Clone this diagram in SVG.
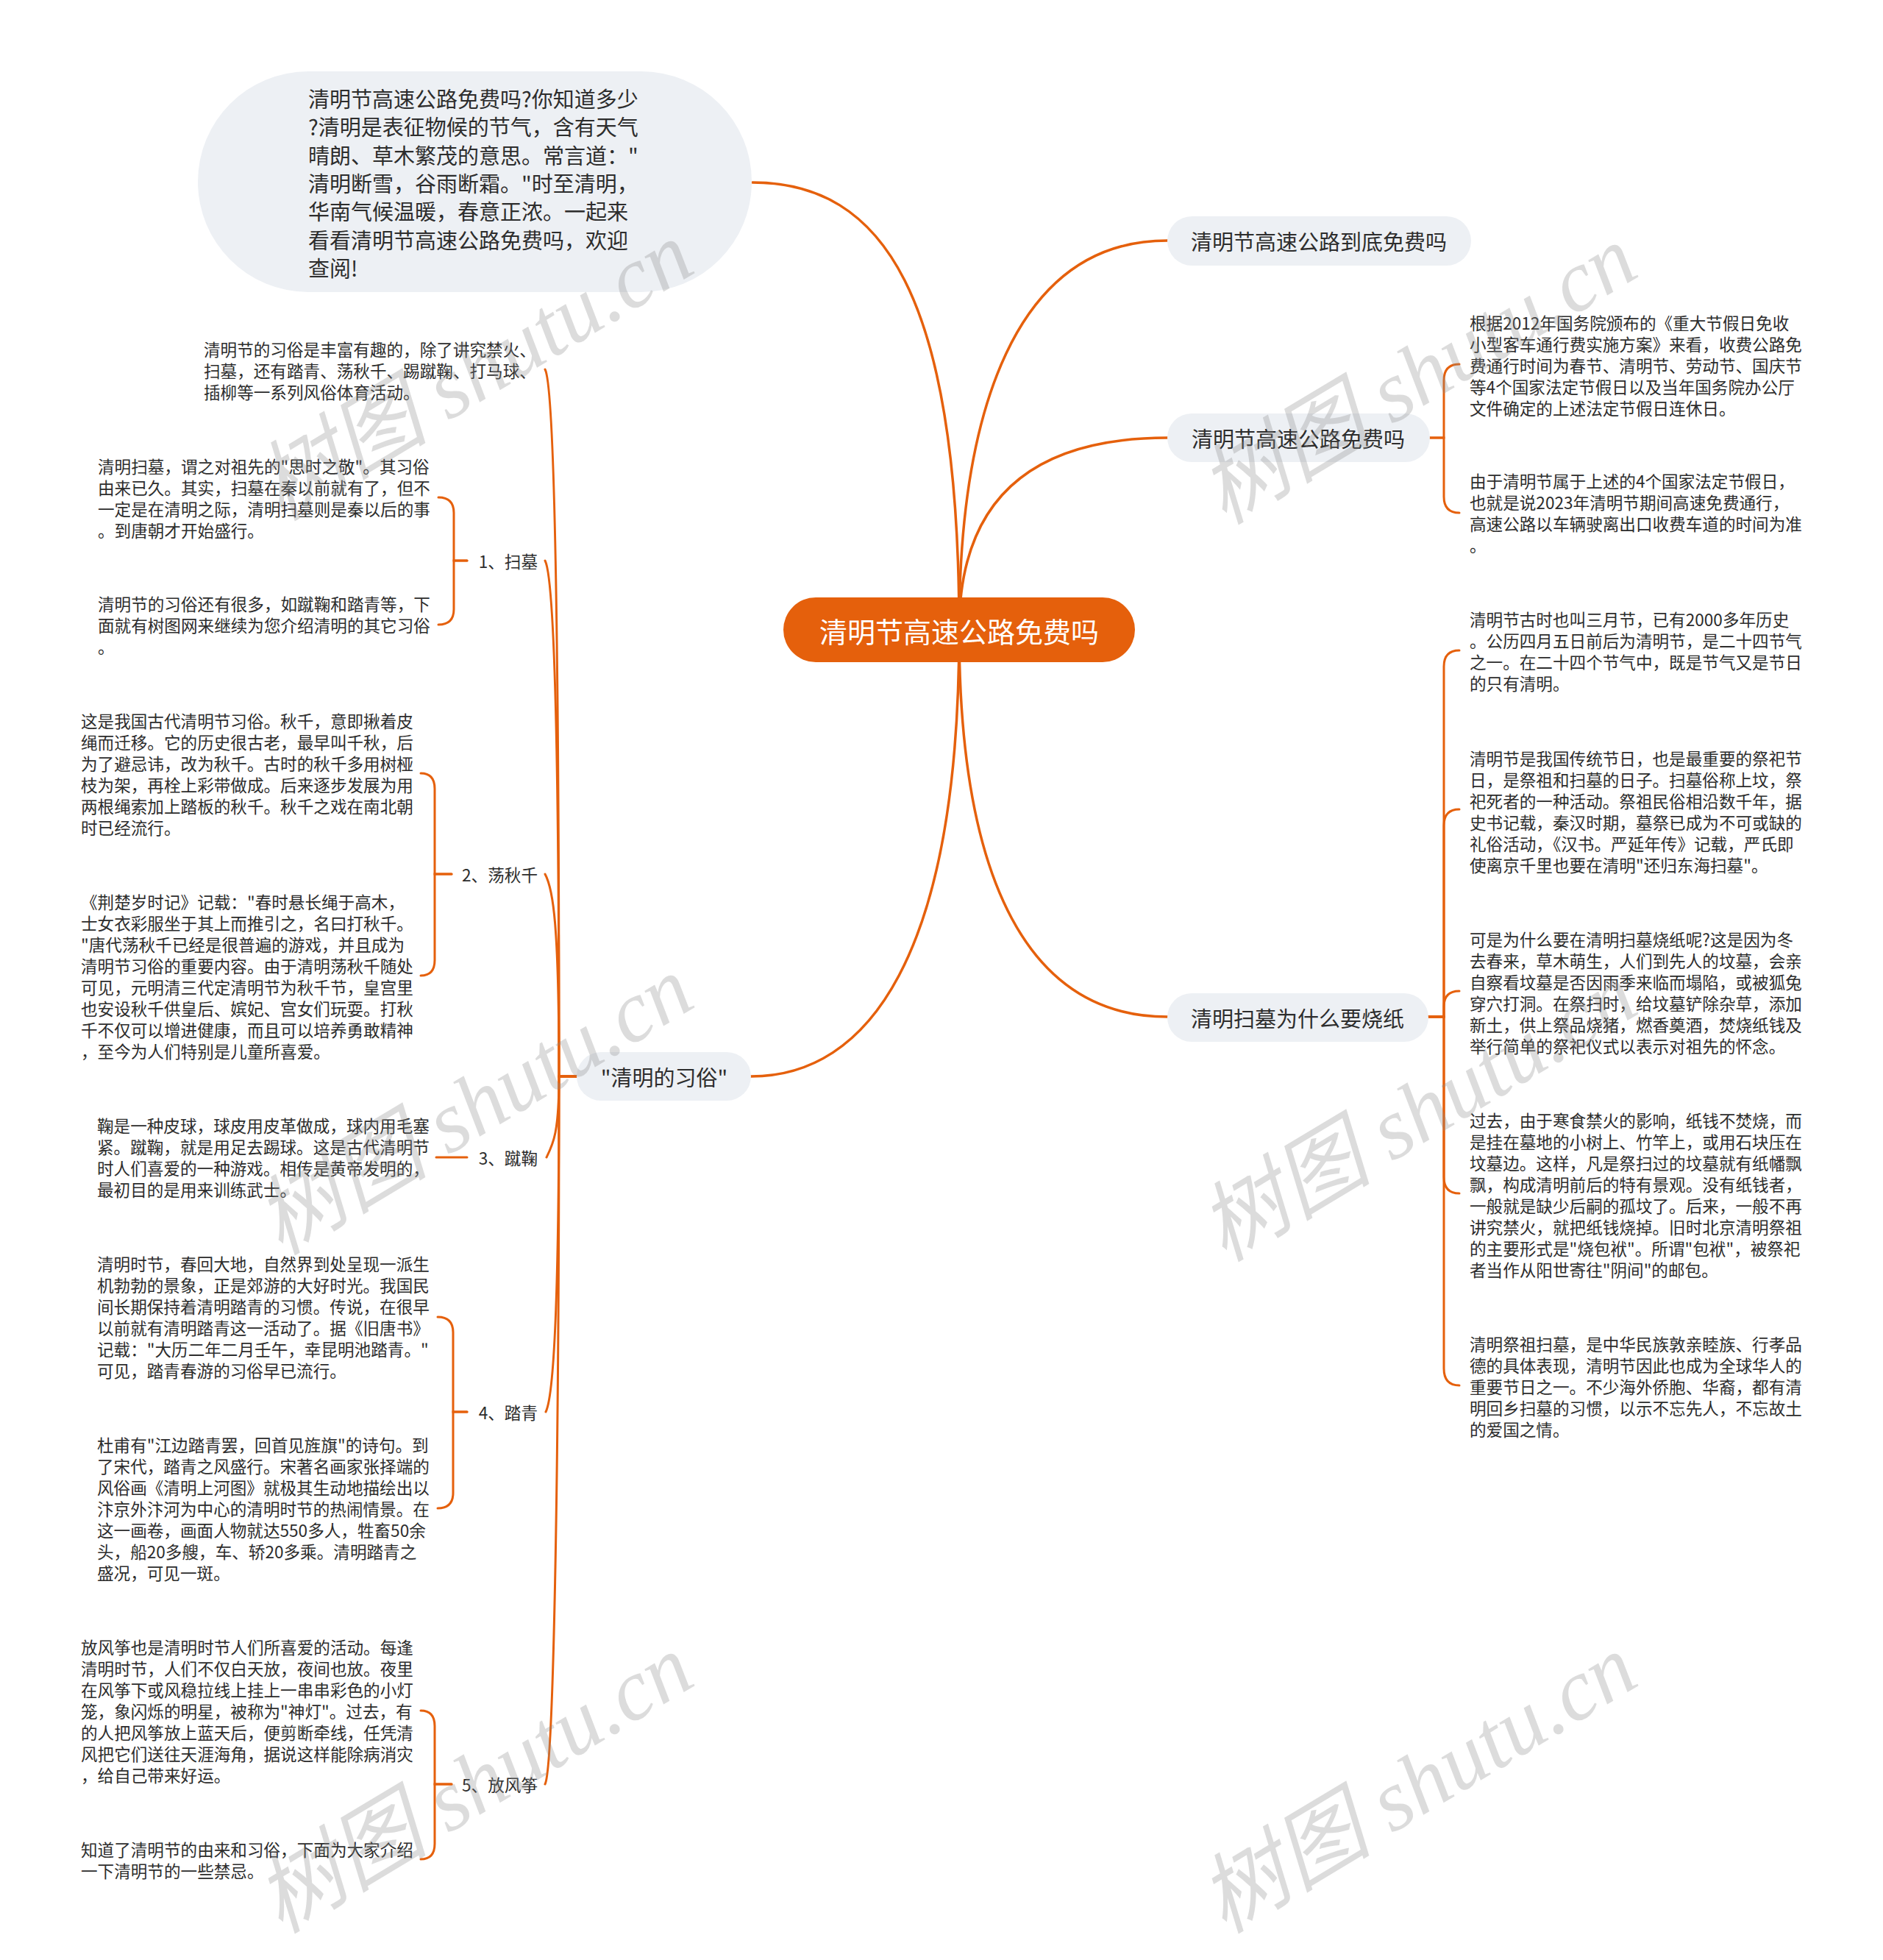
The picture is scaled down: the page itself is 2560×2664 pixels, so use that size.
<svg xmlns="http://www.w3.org/2000/svg" width="2560" height="2664" viewBox="0 0 2560 2664">
<style>
.t{font-family:"Noto Sans CJK SC","Noto Sans",sans-serif;font-size:22.6px;fill:#2d2d2d;dominant-baseline:central}
.m{font-family:"Noto Sans CJK SC","Noto Sans",sans-serif;font-size:29px;fill:#2d2d2d;dominant-baseline:central}
.lbl{font-family:"Noto Sans CJK SC","Noto Sans",sans-serif;font-size:22.6px;fill:#2d2d2d;dominant-baseline:central;text-anchor:end}
.bub{fill:#edf0f4}
.c{fill:none;stroke:#e5600c;stroke-width:3.5;stroke-linecap:round}
.s{fill:none;stroke:#e5600c;stroke-width:3;stroke-linecap:round}
.wm{font-family:"Liberation Serif","Noto Sans CJK SC",serif;font-style:italic;font-size:118px;fill:#8a8a8a;fill-opacity:0.3;text-anchor:middle;dominant-baseline:central}
</style>
<rect width="2560" height="2664" fill="#ffffff"/>
<g id="connectors">
<path class="c" d="M1304,856 C1304,400 1200,248 1023,248"/>
<path class="c" d="M1304,856 C1304,560 1380,327 1587,327"/>
<path class="c" d="M1304,856 C1304,700 1380,595 1587,595"/>
<path class="c" d="M1304,856 C1304,1200 1400,1382 1587,1382"/>
<path class="c" d="M1304,856 C1304,1300 1180,1463 1021,1463"/>
<path class="s" d="M1944,595 H1963 V517 Q1963,495 1984,495"/>
<path class="s" d="M1944,595 H1963 V675 Q1963,697 1984,697"/>
<path class="s" d="M1942,1382 H1963 V906 Q1963,884 1984,884"/>
<path class="s" d="M1942,1382 H1963 V1122 Q1963,1100 1984,1100"/>
<path class="s" d="M1942,1382 H1963 V1368 Q1963,1347 1984,1347"/>
<path class="s" d="M1942,1382 H1963 V1600 Q1963,1622 1984,1622"/>
<path class="s" d="M1942,1382 H1963 V1860 Q1963,1883 1984,1883"/>
<path class="s" d="M784,1463 H760 C760,792 752,522 741,502"/>
<path class="s" d="M784,1463 H760 C760,974 752,782 741,762"/>
<path class="s" d="M784,1463 H760 C760,1255 752,1208 741,1188"/>
<path class="s" d="M784,1463 H760 C760,1540 752,1555 743,1573"/>
<path class="s" d="M784,1463 H760 C760,1780 752,1899 742,1919"/>
<path class="s" d="M784,1463 H760 C760,2032 752,2405 741,2425"/>
<path class="s" d="M635,762 H617 V697 Q617,676 596,676"/>
<path class="s" d="M635,762 H617 V828 Q617,849 596,849"/>
<path class="s" d="M614,1188 H591 V1072 Q591,1051 572,1051"/>
<path class="s" d="M614,1188 H591 V1305 Q591,1326 572,1326"/>
<path class="s" d="M635,1573 H593"/>
<path class="s" d="M635,1919 H616 V1811 Q616,1790 595,1790"/>
<path class="s" d="M635,1919 H616 V2029 Q616,2050 595,2050"/>
<path class="s" d="M614,2425 H591 V2346 Q591,2325 572,2325"/>
<path class="s" d="M614,2425 H591 V2506 Q591,2527 572,2527"/>
</g>
<g id="root">
<rect x="1065" y="812" width="478" height="88" rx="44" fill="#e5600c"/>
<text x="1304" y="856" text-anchor="middle" style="font-family:'Noto Sans CJK SC',sans-serif;font-size:38px;fill:#ffffff;dominant-baseline:central">清明节高速公路免费吗</text>
</g>
<g id="intro">
<rect class="bub" x="269" y="97" width="753" height="300" rx="150"/>
<text class="m">
<tspan x="419" y="133">清明节高速公路免费吗?你知道多少</tspan>
<tspan x="419" y="171">?清明是表征物候的节气，含有天气</tspan>
<tspan x="419" y="210">晴朗、草木繁茂的意思。常言道："</tspan>
<tspan x="419" y="248">清明断雪，谷雨断霜。"时至清明，</tspan>
<tspan x="419" y="286">华南气候温暖，春意正浓。一起来</tspan>
<tspan x="419" y="325">看看清明节高速公路免费吗，欢迎</tspan>
<tspan x="419" y="363">查阅!</tspan>
</text>
</g>
<g id="r1">
<rect class="bub" x="1587" y="294" width="413" height="67" rx="33.5"/>
<text class="m" x="1793" y="327" text-anchor="middle">清明节高速公路到底免费吗</text>
</g>
<g id="r2">
<rect class="bub" x="1587" y="562" width="357" height="66" rx="33"/>
<text class="m" x="1765" y="595" text-anchor="middle">清明节高速公路免费吗</text>
</g>
<g id="r2a">
<text class="t">
<tspan x="1998" y="438">根据2012年国务院颁布的《重大节假日免收</tspan>
<tspan x="1998" y="467">小型客车通行费实施方案》来看，收费公路免</tspan>
<tspan x="1998" y="496">费通行时间为春节、清明节、劳动节、国庆节</tspan>
<tspan x="1998" y="525">等4个国家法定节假日以及当年国务院办公厅</tspan>
<tspan x="1998" y="554">文件确定的上述法定节假日连休日。</tspan>
</text>
</g>
<g id="r2b">
<text class="t">
<tspan x="1998" y="653">由于清明节属于上述的4个国家法定节假日，</tspan>
<tspan x="1998" y="682">也就是说2023年清明节期间高速免费通行，</tspan>
<tspan x="1998" y="711">高速公路以车辆驶离出口收费车道的时间为准</tspan>
<tspan x="1998" y="740">。</tspan>
</text>
</g>
<g id="r3">
<rect class="bub" x="1587" y="1350" width="355" height="66" rx="33"/>
<text class="m" x="1764" y="1383" text-anchor="middle">清明扫墓为什么要烧纸</text>
</g>
<g id="r3a">
<text class="t">
<tspan x="1998" y="841">清明节古时也叫三月节，已有2000多年历史</tspan>
<tspan x="1998" y="870">。公历四月五日前后为清明节，是二十四节气</tspan>
<tspan x="1998" y="899">之一。在二十四个节气中，既是节气又是节日</tspan>
<tspan x="1998" y="928">的只有清明。</tspan>
</text>
</g>
<g id="r3b">
<text class="t">
<tspan x="1998" y="1030">清明节是我国传统节日，也是最重要的祭祀节</tspan>
<tspan x="1998" y="1059">日，是祭祖和扫墓的日子。扫墓俗称上坟，祭</tspan>
<tspan x="1998" y="1088">祀死者的一种活动。祭祖民俗相沿数千年，据</tspan>
<tspan x="1998" y="1117">史书记载，秦汉时期，墓祭已成为不可或缺的</tspan>
<tspan x="1998" y="1146">礼俗活动，《汉书。严延年传》记载，严氏即</tspan>
<tspan x="1998" y="1175">使离京千里也要在清明"还归东海扫墓"。</tspan>
</text>
</g>
<g id="r3c">
<text class="t">
<tspan x="1998" y="1276">可是为什么要在清明扫墓烧纸呢?这是因为冬</tspan>
<tspan x="1998" y="1305">去春来，草木萌生，人们到先人的坟墓，会亲</tspan>
<tspan x="1998" y="1334">自察看坟墓是否因雨季来临而塌陷，或被狐兔</tspan>
<tspan x="1998" y="1363">穿穴打洞。在祭扫时，给坟墓铲除杂草，添加</tspan>
<tspan x="1998" y="1392">新土，供上祭品烧猪，燃香奠酒，焚烧纸钱及</tspan>
<tspan x="1998" y="1421">举行简单的祭祀仪式以表示对祖先的怀念。</tspan>
</text>
</g>
<g id="r3d">
<text class="t">
<tspan x="1998" y="1522">过去，由于寒食禁火的影响，纸钱不焚烧，而</tspan>
<tspan x="1998" y="1551">是挂在墓地的小树上、竹竿上，或用石块压在</tspan>
<tspan x="1998" y="1580">坟墓边。这样，凡是祭扫过的坟墓就有纸幡飘</tspan>
<tspan x="1998" y="1609">飘，构成清明前后的特有景观。没有纸钱者，</tspan>
<tspan x="1998" y="1638">一般就是缺少后嗣的孤坟了。后来，一般不再</tspan>
<tspan x="1998" y="1667">讲究禁火，就把纸钱烧掉。旧时北京清明祭祖</tspan>
<tspan x="1998" y="1696">的主要形式是"烧包袱"。所谓"包袱"，被祭祀</tspan>
<tspan x="1998" y="1725">者当作从阳世寄往"阴间"的邮包。</tspan>
</text>
</g>
<g id="r3e">
<text class="t">
<tspan x="1998" y="1826">清明祭祖扫墓，是中华民族敦亲睦族、行孝品</tspan>
<tspan x="1998" y="1855">德的具体表现，清明节因此也成为全球华人的</tspan>
<tspan x="1998" y="1884">重要节日之一。不少海外侨胞、华裔，都有清</tspan>
<tspan x="1998" y="1913">明回乡扫墓的习惯，以示不忘先人，不忘故土</tspan>
<tspan x="1998" y="1942">的爱国之情。</tspan>
</text>
</g>
<g id="l">
<rect class="bub" x="784" y="1430" width="237" height="66" rx="33"/>
<text class="m" x="903" y="1463" text-anchor="middle">"清明的习俗"</text>
</g>
<g id="l0">
<text class="t">
<tspan x="277" y="474">清明节的习俗是丰富有趣的，除了讲究禁火、</tspan>
<tspan x="277" y="503">扫墓，还有踏青、荡秋千、踢蹴鞠、打马球、</tspan>
<tspan x="277" y="532">插柳等一系列风俗体育活动。</tspan>
</text>
</g>
<g id="l1"><text class="lbl" x="731" y="762">1、扫墓</text></g>
<g id="l1a">
<text class="t">
<tspan x="133" y="633">清明扫墓，谓之对祖先的"思时之敬"。其习俗</tspan>
<tspan x="133" y="662">由来已久。其实，扫墓在秦以前就有了，但不</tspan>
<tspan x="133" y="691">一定是在清明之际，清明扫墓则是秦以后的事</tspan>
<tspan x="133" y="720">。到唐朝才开始盛行。</tspan>
</text>
</g>
<g id="l1b">
<text class="t">
<tspan x="133" y="820">清明节的习俗还有很多，如蹴鞠和踏青等，下</tspan>
<tspan x="133" y="849">面就有树图网来继续为您介绍清明的其它习俗</tspan>
<tspan x="133" y="878">。</tspan>
</text>
</g>
<g id="l2"><text class="lbl" x="731" y="1188">2、荡秋千</text></g>
<g id="l2a">
<text class="t">
<tspan x="110" y="979">这是我国古代清明节习俗。秋千，意即揪着皮</tspan>
<tspan x="110" y="1008">绳而迁移。它的历史很古老，最早叫千秋，后</tspan>
<tspan x="110" y="1037">为了避忌讳，改为秋千。古时的秋千多用树桠</tspan>
<tspan x="110" y="1066">枝为架，再栓上彩带做成。后来逐步发展为用</tspan>
<tspan x="110" y="1095">两根绳索加上踏板的秋千。秋千之戏在南北朝</tspan>
<tspan x="110" y="1124">时已经流行。</tspan>
</text>
</g>
<g id="l2b">
<text class="t">
<tspan x="110" y="1225">《荆楚岁时记》记载："春时悬长绳于高木，</tspan>
<tspan x="110" y="1254">士女衣彩服坐于其上而推引之，名曰打秋千。</tspan>
<tspan x="110" y="1283">"唐代荡秋千已经是很普遍的游戏，并且成为</tspan>
<tspan x="110" y="1312">清明节习俗的重要内容。由于清明荡秋千随处</tspan>
<tspan x="110" y="1341">可见，元明清三代定清明节为秋千节，皇宫里</tspan>
<tspan x="110" y="1370">也安设秋千供皇后、嫔妃、宫女们玩耍。打秋</tspan>
<tspan x="110" y="1399">千不仅可以增进健康，而且可以培养勇敢精神</tspan>
<tspan x="110" y="1428">，至今为人们特别是儿童所喜爱。</tspan>
</text>
</g>
<g id="l3"><text class="lbl" x="731" y="1573">3、蹴鞠</text></g>
<g id="l3a">
<text class="t">
<tspan x="132" y="1529">鞠是一种皮球，球皮用皮革做成，球内用毛塞</tspan>
<tspan x="132" y="1558">紧。蹴鞠，就是用足去踢球。这是古代清明节</tspan>
<tspan x="132" y="1587">时人们喜爱的一种游戏。相传是黄帝发明的，</tspan>
<tspan x="132" y="1616">最初目的是用来训练武士。</tspan>
</text>
</g>
<g id="l4"><text class="lbl" x="731" y="1919">4、踏青</text></g>
<g id="l4a">
<text class="t">
<tspan x="132" y="1717">清明时节，春回大地，自然界到处呈现一派生</tspan>
<tspan x="132" y="1746">机勃勃的景象，正是郊游的大好时光。我国民</tspan>
<tspan x="132" y="1775">间长期保持着清明踏青的习惯。传说，在很早</tspan>
<tspan x="132" y="1804">以前就有清明踏青这一活动了。据《旧唐书》</tspan>
<tspan x="132" y="1833">记载："大历二年二月壬午，幸昆明池踏青。"</tspan>
<tspan x="132" y="1862">可见，踏青春游的习俗早已流行。</tspan>
</text>
</g>
<g id="l4b">
<text class="t">
<tspan x="132" y="1963">杜甫有"江边踏青罢，回首见旌旗"的诗句。到</tspan>
<tspan x="132" y="1992">了宋代，踏青之风盛行。宋著名画家张择端的</tspan>
<tspan x="132" y="2021">风俗画《清明上河图》就极其生动地描绘出以</tspan>
<tspan x="132" y="2050">汴京外汴河为中心的清明时节的热闹情景。在</tspan>
<tspan x="132" y="2079">这一画卷，画面人物就达550多人，牲畜50余</tspan>
<tspan x="132" y="2108">头，船20多艘，车、轿20多乘。清明踏青之</tspan>
<tspan x="132" y="2137">盛况，可见一斑。</tspan>
</text>
</g>
<g id="l5"><text class="lbl" x="731" y="2425">5、放风筝</text></g>
<g id="l5a">
<text class="t">
<tspan x="110" y="2238">放风筝也是清明时节人们所喜爱的活动。每逢</tspan>
<tspan x="110" y="2267">清明时节，人们不仅白天放，夜间也放。夜里</tspan>
<tspan x="110" y="2296">在风筝下或风稳拉线上挂上一串串彩色的小灯</tspan>
<tspan x="110" y="2325">笼，象闪烁的明星，被称为"神灯"。过去，有</tspan>
<tspan x="110" y="2354">的人把风筝放上蓝天后，便剪断牵线，任凭清</tspan>
<tspan x="110" y="2383">风把它们送往天涯海角，据说这样能除病消灾</tspan>
<tspan x="110" y="2412">，给自己带来好运。</tspan>
</text>
</g>
<g id="l5b">
<text class="t">
<tspan x="110" y="2513">知道了清明节的由来和习俗，下面为大家介绍</tspan>
<tspan x="110" y="2542">一下清明节的一些禁忌。</tspan>
</text>
</g>
<g id="watermarks">
<text class="wm" transform="translate(645,505) rotate(-31)">树图 shutu.cn</text>
<text class="wm" transform="translate(1928,510) rotate(-31)">树图 shutu.cn</text>
<text class="wm" transform="translate(645,1503) rotate(-31)">树图 shutu.cn</text>
<text class="wm" transform="translate(1928,1512) rotate(-31)">树图 shutu.cn</text>
<text class="wm" transform="translate(645,2425) rotate(-31)">树图 shutu.cn</text>
<text class="wm" transform="translate(1928,2425) rotate(-31)">树图 shutu.cn</text>
</g>
</svg>
